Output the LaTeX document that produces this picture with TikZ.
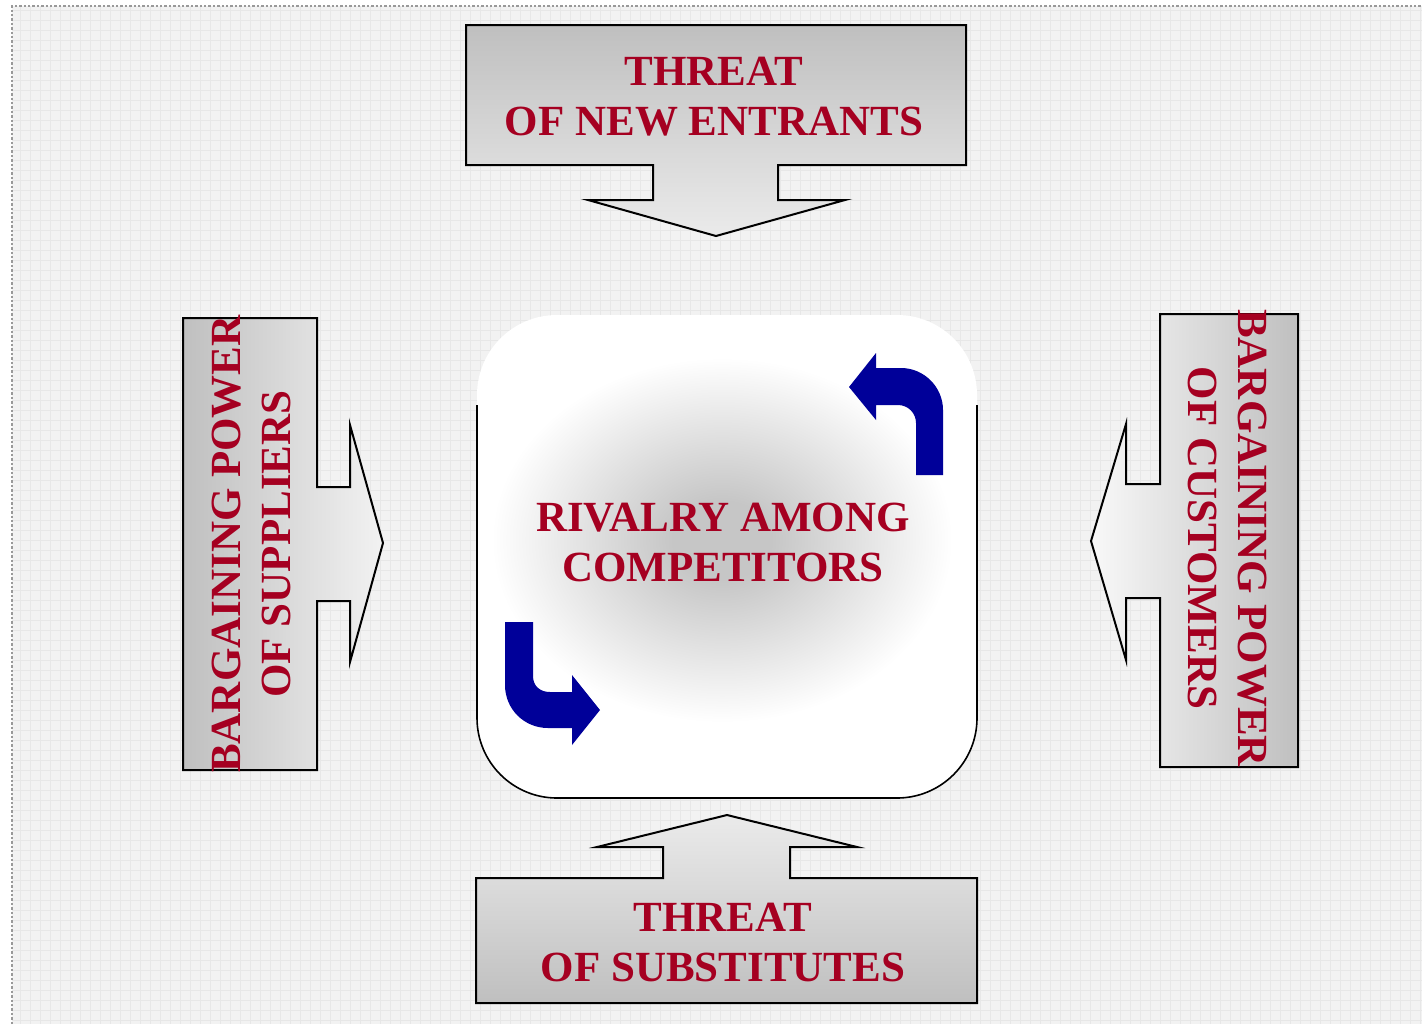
\documentclass[tikz,border=0pt]{standalone}
\usepackage{fontspec}
\setmainfont{Liberation Serif}
\definecolor{porterred}{HTML}{A50021}
\definecolor{turnblue}{HTML}{000099}
\definecolor{paper}{HTML}{F2F2F2}
\definecolor{paperline}{HTML}{E7E7E7}
\pgfdeclareradialshading{glow}{\pgfpoint{0bp}{0bp}}{color(0bp)=(gray!45); color(5bp)=(gray!45); color(24bp)=(white); color(50bp)=(white)}
\tikzset{
  force/.style={font=\bfseries\fontsize{21.5}{25}\selectfont, text=porterred, align=center, inner sep=0pt},
  blockarrow/.style={draw=black, line width=1pt},
  turn/.style={fill=turnblue, draw=none}
}
\begin{document}
\begin{tikzpicture}[x=0.5pt, y=-0.5pt]
		\useasboundingbox (0,0) rectangle (1422,1024);
		
		% paper
		\fill[paper] (12,6) rectangle (1422,1024);
		\begin{scope}
		\clip (12,6) rectangle (1422,1024);
		\draw[step=5pt, paperline, line width=0.3pt] (0,1024) grid (1422,0);
		\end{scope}
		\draw[gray!80, densely dotted, line width=1.2pt] (12,1024) -- (12,6) -- (1422,6);
		
		% the four forces
		\draw[blockarrow, top color=gray!50, bottom color=gray!16] (466,25) -- (966,25) -- (966,165) -- (778,165) -- (778,200) -- (845,200) -- (716,236) -- (588,200) -- (653,200) -- (653,165) -- (466,165) -- cycle;
		\draw[blockarrow, bottom color=gray!50, top color=gray!16] (476,1003) -- (977,1003) -- (977,878) -- (790,878) -- (790,847) -- (857,847) -- (727,815) -- (597,847) -- (663,847) -- (663,878) -- (476,878) -- cycle;
		\draw[blockarrow, left color=gray!50, right color=gray!10] (183,318) -- (317,318) -- (317,487) -- (350,487) -- (350,425) -- (383,543) -- (350,662) -- (350,601) -- (317,601) -- (317,770) -- (183,770) -- cycle;
		\draw[blockarrow, right color=gray!50, left color=gray!5] (1160,314) -- (1298,314) -- (1298,767) -- (1160,767) -- (1160,598) -- (1126,598) -- (1126,660) -- (1091,541) -- (1126,424) -- (1126,484) -- (1160,484) -- cycle;
		
		% rivalry box
		\fill[white, rounded corners=40pt] (477,315) rectangle (977,798);
		\shade[shading=glow] (722,540) ellipse (240 and 190);
		\draw[line width=0.8pt, rounded corners=40pt] (477,405) -- (477,798) -- (977,798) -- (977,405);
		
		\fill[turn] (916,475) -- (916,423) .. controls (916,413) and (908,405) .. (898,405) -- (876,405) -- (876,420) -- (849,387) -- (876,353) -- (876,368) -- (901,368) .. controls (924,368) and (943,387) .. (943,410) -- (943,475) -- cycle;
		\fill[turn] (505,622) -- (505,685) .. controls (505,709) and (524,728) .. (548,728) -- (572,728) -- (572,745) -- (600,710) -- (572,675) -- (572,692) -- (550,692) .. controls (540,692) and (533,686) .. (533,676) -- (533,622) -- cycle;
		
		% labels
		\node[force] (entrants) at (714,97) {THREAT\\OF NEW ENTRANTS};
		\node[force] (substitutes) at (723,942) {THREAT\\OF SUBSTITUTES};
		\node[force, rotate=90] (suppliers) at (251,544) {BARGAINING POWER\\OF SUPPLIERS};
		\node[force, rotate=-90] (customers) at (1228,538) {BARGAINING POWER\\OF CUSTOMERS};
		\node[force] (rivalry) at (723,542) {RIVALRY AMONG\\COMPETITORS};
		
\end{tikzpicture}
\end{document}
